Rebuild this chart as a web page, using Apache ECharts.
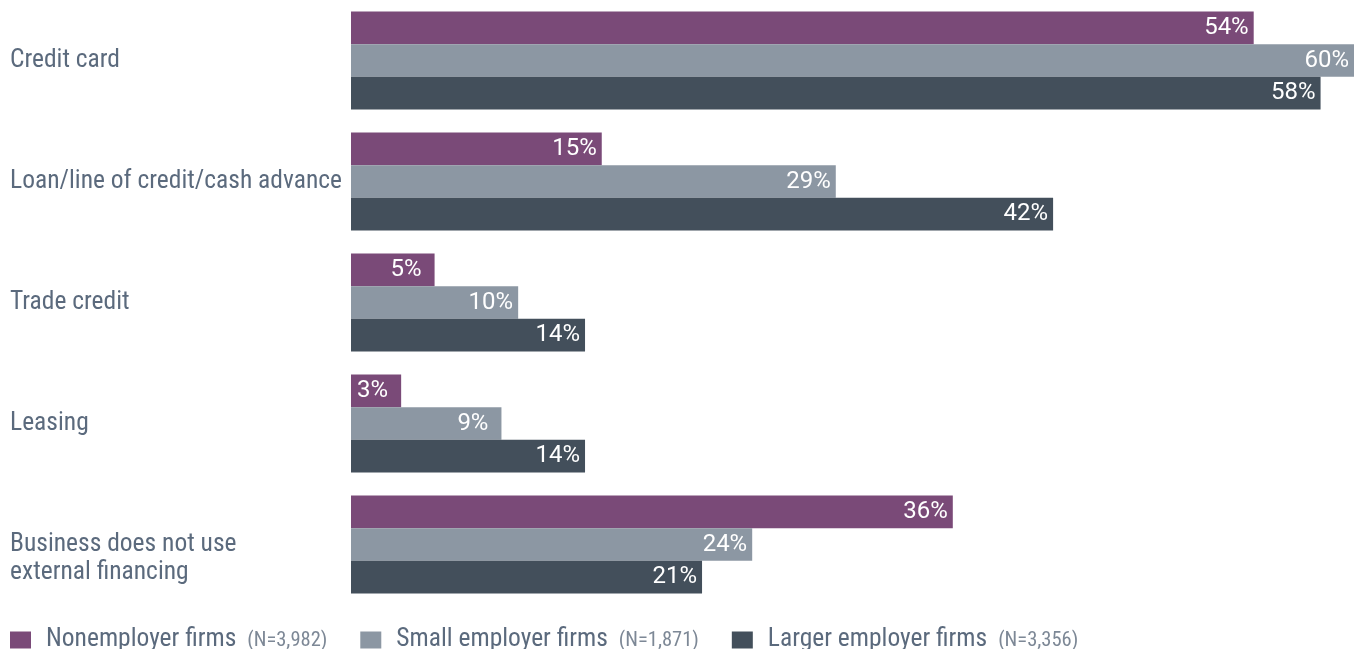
<!DOCTYPE html>
<html>
<head>
<meta charset="utf-8">
<script src="https://cdn.jsdelivr.net/npm/echarts@6/dist/echarts.min.js"></script>
<style>
  html, body { margin: 0; padding: 0; background: #ffffff; }
  #chart { width: 1361px; height: 649px; }
</style>
</head>
<body>
<div id="chart"></div>
<script>
// Sources of financing used, by firm type (% of firms)
const categories = [
  'Credit card',
  'Loan/line of credit/cash advance',
  'Trade credit',
  'Leasing',
  'Business does not use\nexternal financing'
];
const seriesNames = ['Nonemployer firms', 'Small employer firms', 'Larger employer firms'];
const sampleSizes = ['(N=3,982)', '(N=1,871)', '(N=3,356)'];
const nonemployer = [54, 15, 5, 3, 36];
const smallEmployer = [60, 29, 10, 9, 24];
const largerEmployer = [58, 42, 14, 14, 21];

const colors = ['#7a4a78', '#8c97a3', '#434f5b'];
const TEXT_COLOR = '#5b6a7d';
const COND = "'Roboto Condensed', 'Liberation Sans Narrow', sans-serif";
const VALUE_FONT = "Roboto, 'Noto Sans', sans-serif";
const CAT_SIZE = 25.5;
const CAT_LINE = 28;

function barData(values) {
  // single-digit labels sit a little further in from the bar end
  return values.map(v => ({ value: v, label: { distance: v < 10 ? 13 : 5 } }));
}

function makeSeries(idx, values) {
  return {
    name: seriesNames[idx],
    type: 'bar',
    data: barData(values),
    barGap: '0%',
    barCategoryGap: '19%',
    itemStyle: { color: colors[idx] },
    label: {
      show: true,
      position: 'insideRight',
      formatter: '{c}%',
      color: '#ffffff',
      fontFamily: VALUE_FONT,
      fontSize: 24
    }
  };
}

// Multi-line category names hang from the band centre: a blank lead line
// keeps the first line level with the middle of the bars.
function categoryLabel(value) {
  return value.indexOf('\n') >= 0 ? '\n' + value : value;
}

const chart = echarts.init(document.getElementById('chart'), null, { renderer: 'canvas' });

chart.setOption({
  animation: false,
  textStyle: { fontFamily: COND },
  grid: {
    left: 351, right: 7, top: 0, bottom: 44,
    containLabel: false,
    outerBoundsMode: 'none'
  },
  xAxis: {
    type: 'value',
    min: 0,
    max: 60,
    show: false
  },
  yAxis: {
    type: 'category',
    inverse: true,
    data: categories,
    axisLine: { show: false },
    axisTick: { show: false },
    axisLabel: {
      align: 'left',
      margin: 341,
      color: TEXT_COLOR,
      fontFamily: COND,
      fontSize: CAT_SIZE,
      lineHeight: CAT_LINE,
      padding: [0, 0, 3, 0],
      hideOverlap: false,
      formatter: categoryLabel
    }
  },
  legend: {
    left: 10,
    top: 627,
    padding: 0,
    icon: 'rect',
    itemWidth: 21,
    itemHeight: 17,
    itemGap: 33,
    selectedMode: false,
    data: seriesNames,
    formatter: function (name) {
      const i = seriesNames.indexOf(name);
      return '{n|' + name + '}{s|' + sampleSizes[i] + '}';
    },
    textStyle: {
      fontFamily: COND,
      rich: {
        n: { fontSize: CAT_SIZE, color: TEXT_COLOR, fontFamily: COND, padding: [0, 0, 0, 10] },
        s: { fontSize: 20.5, color: '#7d8896', fontFamily: COND, padding: [2, 0, 0, 11] }
      }
    }
  },
  series: [
    makeSeries(0, nonemployer),
    makeSeries(1, smallEmployer),
    makeSeries(2, largerEmployer)
  ]
});
</script>
</body>
</html>
